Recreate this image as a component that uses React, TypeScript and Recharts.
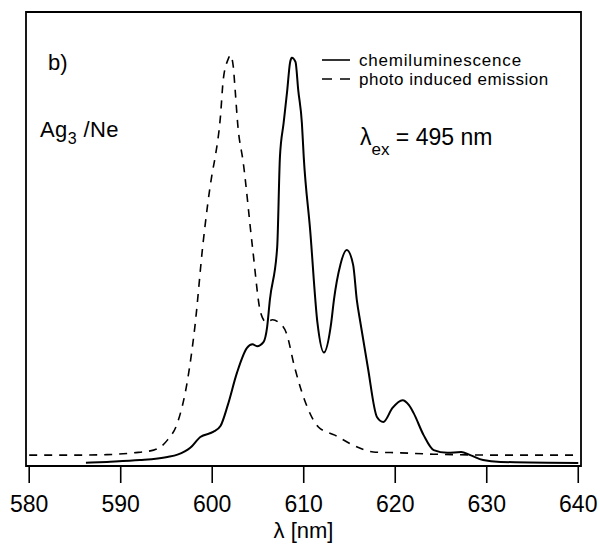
import React from 'react';
import { LineChart, Line, XAxis, YAxis, ReferenceArea, Customized } from 'recharts';

// chemiluminescence (solid)
const chemNm = [586.2, 588.5, 592.1, 595.1, 596.2, 597.6, 598.7, 600.1, 600.9, 601.7, 602.7, 603.8, 604.4, 604.9, 605.6, 606.0, 606.3, 607.1, 607.4, 607.8, 608.2, 608.5, 608.7, 609.1, 609.4, 609.8, 610.0, 610.7, 611.5, 612.2, 613.0, 613.3, 614.0, 614.7, 615.4, 615.8, 616.2, 617.0, 618.0, 618.7, 619.7, 620.8, 621.5, 622.0, 623.1, 624.2, 625.7, 627.2, 628.2, 629.6, 631.5, 640.0];
const chemVal = [0.7, 0.9, 1.3, 2.0, 2.5, 4.0, 6.4, 7.5, 8.8, 13.4, 20.5, 26.0, 26.8, 26.4, 27.3, 30.6, 36.6, 48.2, 68.1, 75.5, 82.8, 88.8, 89.9, 89.0, 82.8, 75.5, 68.1, 52.0, 31.5, 25.0, 31.5, 36.6, 44.3, 47.6, 44.3, 36.6, 31.5, 21.8, 10.8, 9.7, 12.8, 14.5, 13.4, 11.7, 6.8, 3.5, 2.9, 3.1, 2.4, 1.3, 0.9, 0.66];

// photo induced emission (dashed)
const photoNm = [580.0, 585.0, 588.5, 591.4, 593.6, 595.1, 596.2, 597.3, 598.1, 599.0, 600.0, 600.3, 600.9, 601.2, 601.7, 602.0, 602.3, 602.5, 602.8, 603.4, 604.4, 605.3, 605.9, 606.6, 607.2, 608.1, 609.0, 610.1, 611.6, 613.4, 615.4, 617.6, 620.6, 624.2, 631.5, 640.0];
const photoVal = [2.4, 2.4, 2.5, 2.9, 3.5, 5.7, 9.5, 18.9, 30.6, 49.1, 64.5, 67.8, 77.0, 85.0, 89.4, 90.5, 88.0, 83.0, 75.0, 66.7, 48.2, 33.7, 31.7, 32.2, 31.7, 29.3, 21.8, 14.5, 8.6, 6.8, 4.6, 3.1, 2.9, 2.6, 2.4, 2.4];

const xTicks = [580, 590, 600, 610, 620, 630, 640];
const xDomain = [579.65, 640.3];
const yDomain = [0, 100];

const chemData = chemNm.map((nm, i) => ({ nm, v: chemVal[i] }));
const photoData = photoNm.map((nm, i) => ({ nm, v: photoVal[i] }));

const FONT = '"Liberation Sans", Arial, Helvetica, sans-serif';

const Annotations = () => (
  <g fontFamily={FONT} fill="#000">
    <text x={48} y={70} fontSize={22}>b)</text>
    <text x={40} y={137} fontSize={22} letterSpacing={0.4}>
      Ag<tspan fontSize={16} dy={7}>3</tspan>
      <tspan dy={-7}> /Ne</tspan>
    </text>
    <line x1={322} x2={350} y1={60} y2={60} stroke="#000" strokeWidth={1.6} />
    <text x={359} y={65.5} fontSize={17} letterSpacing={0.8}>chemiluminescence</text>
    <line x1={322} x2={350} y1={79} y2={79} stroke="#000" strokeWidth={1.6} strokeDasharray="10 8" />
    <text x={359} y={84.5} fontSize={17} letterSpacing={0.5}>photo induced emission</text>
    <text x={360} y={145} fontSize={23}>
      λ<tspan fontSize={17} dy={10}>ex</tspan>
      <tspan dy={-10}> = 495 nm</tspan>
    </text>
  </g>
);

export default function App() {
  return (
    <div style={{ position: 'absolute', left: 0, top: 0, background: '#fff' }}>
      <LineChart
        width={600}
        height={544}
        margin={{ top: 12, right: 19, left: 26, bottom: 0 }}
      >
        <XAxis
          dataKey="nm"
          type="number"
          domain={xDomain}
          ticks={xTicks}
          allowDataOverflow
          height={78}
          tickSize={17}
          tickMargin={13}
          axisLine={false}
          tickLine={{ stroke: '#000', strokeWidth: 1.6 }}
          tick={{ fill: '#000', fontSize: 23, fontFamily: FONT }}
          label={{ value: 'λ [nm]', position: 'insideBottom', offset: 6, fill: '#000', fontSize: 22, fontFamily: FONT }}
        />
        <YAxis type="number" domain={yDomain} hide allowDataOverflow />
        <ReferenceArea
          x1={xDomain[0]}
          x2={xDomain[1]}
          y1={yDomain[0]}
          y2={yDomain[1]}
          fill="none"
          fillOpacity={0}
          stroke="#000"
          strokeWidth={1.8}
          ifOverflow="visible"
        />
        <Line
          data={photoData}
          dataKey="v"
          type="monotone"
          stroke="#000"
          strokeWidth={1.6}
          strokeDasharray="8 7"
          dot={false}
          activeDot={false}
          isAnimationActive={false}
        />
        <Line
          data={chemData}
          dataKey="v"
          type="monotone"
          stroke="#000"
          strokeWidth={2}
          dot={false}
          activeDot={false}
          isAnimationActive={false}
        />
        <Customized component={Annotations} />
      </LineChart>
    </div>
  );
}
